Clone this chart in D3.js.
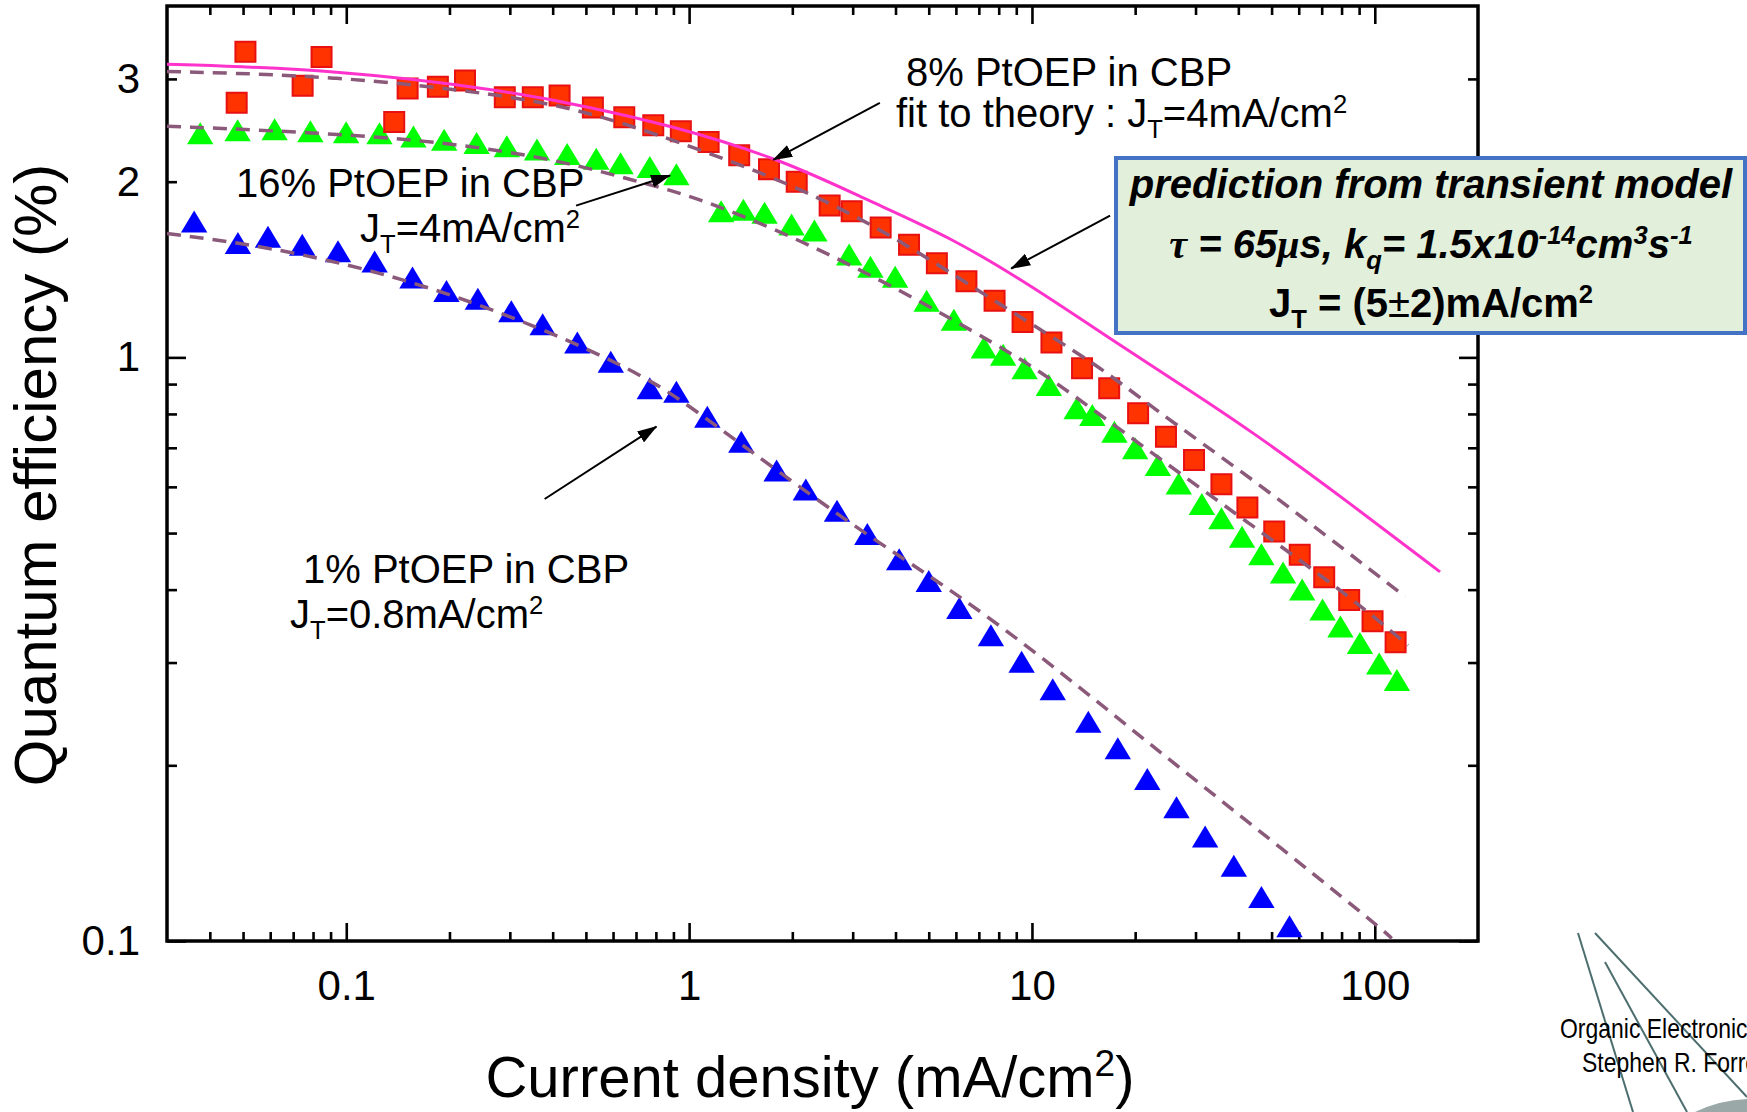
<!DOCTYPE html>
<html>
<head>
<meta charset="utf-8">
<script src="https://cdn.jsdelivr.net/npm/d3@7"></script>
<style>
  html, body { margin: 0; padding: 0; background: #fff; }
  svg { display: block; }
  text { font-family: "Liberation Sans", Arial, Helvetica, sans-serif; white-space: pre; fill: #000; }
</style>
</head>
<body>
<div id="chart"></div>
<script>
// ---- data ----
var xTicks = [0.1, 1, 10, 100];
var yTicks = [0.1, 1, 2, 3];

// 8% PtOEP in CBP (red squares)
var j8  = [0.0508, 0.0479, 0.0847, 0.0746, 0.138, 0.151, 0.185, 0.222, 0.290, 0.350, 0.419, 0.524, 0.647, 0.786, 0.946,
           1.14, 1.40, 1.71, 2.06, 2.57, 2.98, 3.62, 4.38, 5.28, 6.44, 7.78, 9.39, 11.4, 14.0, 16.8,
           20.4, 24.6, 29.7, 35.7, 42.5, 50.9, 60.4, 71.2, 84.2, 98.5, 115];
var qe8 = [3.34, 2.73, 3.27, 2.92, 2.53, 2.89, 2.91, 2.98, 2.79, 2.79, 2.81, 2.68, 2.58, 2.50, 2.44,
           2.34, 2.22, 2.10, 2.00, 1.82, 1.78, 1.67, 1.56, 1.45, 1.35, 1.25, 1.15, 1.06, 0.958, 0.885,
           0.802, 0.731, 0.667, 0.606, 0.553, 0.503, 0.459, 0.420, 0.384, 0.353, 0.325];

// 16% PtOEP in CBP (green triangles)
var j16  = [0.0375, 0.0482, 0.0618, 0.0786, 0.0999, 0.125, 0.157, 0.193, 0.240, 0.294, 0.360, 0.441, 0.536, 0.631, 0.768, 0.918,
            1.24, 1.44, 1.66, 1.99, 2.32, 2.93, 3.38, 3.99, 4.93, 5.92, 7.24, 8.24, 9.52, 11.2,
            13.5, 15.0, 17.4, 20.0, 23.3, 26.8, 31.3, 35.7, 41.0, 46.7, 54.0, 61.4, 70.4, 79.4, 90.5, 103, 116];
var qe16 = [2.42, 2.45, 2.46, 2.44, 2.43, 2.42, 2.39, 2.36, 2.33, 2.30, 2.27, 2.23, 2.19, 2.15, 2.12, 2.06,
            1.78, 1.79, 1.77, 1.69, 1.65, 1.50, 1.43, 1.375, 1.25, 1.16, 1.04, 1.01, 0.958, 0.897,
            0.818, 0.797, 0.746, 0.699, 0.654, 0.608, 0.561, 0.530, 0.493, 0.460, 0.428, 0.400, 0.370, 0.346, 0.324, 0.299, 0.280];

// 1% PtOEP in CBP (blue triangles)
var j1  = [0.036, 0.0483, 0.0591, 0.0744, 0.0946, 0.121, 0.156, 0.196, 0.242, 0.303, 0.374, 0.472, 0.591, 0.768, 0.918,
           1.13, 1.42, 1.80, 2.19, 2.70, 3.31, 4.10, 5.00, 6.14, 7.59, 9.33, 11.5, 14.6, 17.8,
           21.7, 26.4, 32.0, 38.8, 46.7, 56.4];
var qe1 = [1.71, 1.57, 1.61, 1.56, 1.52, 1.46, 1.37, 1.30, 1.26, 1.20, 1.14, 1.06, 0.983, 0.885, 0.873,
           0.791, 0.717, 0.640, 0.594, 0.546, 0.498, 0.451, 0.414, 0.372, 0.334, 0.301, 0.270, 0.2375, 0.214,
           0.1895, 0.1695, 0.151, 0.1346, 0.119, 0.106];

// fits to theory (dashed)
var fit8J   = [0.03, 0.094, 0.287, 0.503, 0.88, 2.11, 4.13, 8.08, 15.8, 22.1, 43.3, 84.8, 122.7];
var fit8QE  = [3.09, 3.035, 2.82, 2.64, 2.37, 1.96, 1.59, 1.23, 0.965, 0.825, 0.623, 0.460, 0.389];
var fit16J  = [0.03, 0.08, 0.196, 0.415, 0.69, 1.08, 2.11, 4.13, 8.08, 11.2, 22.1, 43.3, 84.8, 125];
var fit16QE = [2.49, 2.43, 2.34, 2.18, 2.01, 1.874, 1.59, 1.305, 1.043, 0.927, 0.689, 0.518, 0.389, 0.321];
var fit1J   = [0.03, 0.059, 0.145, 0.357, 0.756, 1.08, 3.0, 5.77, 11.3, 22.1, 43.3, 106, 112];
var fit1QE  = [1.63, 1.55, 1.375, 1.136, 0.927, 0.80, 0.513, 0.402, 0.299, 0.2173, 0.159, 0.1044, 0.101];

// prediction from transient model (pink solid)
var modelJ  = [0.03, 0.094, 0.287, 0.503, 0.88, 1.88, 3.3, 5.77, 10.1, 17.7, 25.9, 43.3, 84.8, 155];
var modelQE = [3.18, 3.11, 2.87, 2.69, 2.50, 2.18, 1.86, 1.61, 1.32, 1.057, 0.915, 0.751, 0.562, 0.429];

// annotation arrows [fromJ, fromQE, toJ, toQE]
var arrows = [
  [3.60, 2.73, 1.76, 2.18],
  [0.468, 1.82, 0.88, 2.05],
  [16.9, 1.75, 8.7, 1.42],
  [0.379, 0.572, 0.803, 0.761]
];

// ---- layout ----
var width = 1747, height = 1112;
var plot = {left: 167, right: 1478, top: 6, bottom: 941};

var svg = d3.select("#chart")
  .append("svg")
    .attr("width", width)
    .attr("height", height);

svg.append("rect").attr("width", width).attr("height", height).attr("fill", "#fff");

var defs = svg.append("defs");
defs.append("marker")
    .attr("id", "arrow")
    .attr("viewBox", "0 0 20 13")
    .attr("refX", 19)
    .attr("refY", 6.5)
    .attr("markerWidth", 20)
    .attr("markerHeight", 13)
    .attr("markerUnits", "userSpaceOnUse")
    .attr("orient", "auto")
  .append("path")
    .attr("d", "M0,0L20,6.5L0,13Z")
    .attr("fill", "#000");

var x = d3.scaleLog().domain([0.03, 200]).range([plot.left, plot.right]);
var y = d3.scaleLog().domain([0.1, 4]).range([plot.bottom, plot.top]);

function minorTicks(domain) {
  var vals = [];
  for (var e = -3; e <= 3; e++) {
    for (var k = 2; k <= 9; k++) {
      var v = k * Math.pow(10, e);
      if (v > domain[0] * 1.001 && v < domain[1] * 0.999) vals.push(v);
    }
  }
  return vals;
}
var xMinor = minorTicks(x.domain());
var yMinor = minorTicks(y.domain());

function styleAxis(g) {
  g.select(".domain").remove();
  g.selectAll(".tick line").attr("stroke", "#000").attr("stroke-width", 2.6);
  g.selectAll(".tick text").attr("font-size", 42).attr("fill", "#000");
}

// bottom axis with labels
svg.append("g")
  .attr("transform", "translate(0," + plot.bottom + ")")
  .call(d3.axisBottom(x).tickValues(xTicks).tickSize(-18).tickSizeOuter(0).tickPadding(29)
        .tickFormat(function(d) { return String(d); }))
  .call(styleAxis);
svg.append("g")
  .attr("transform", "translate(0," + plot.bottom + ")")
  .call(d3.axisBottom(x).tickValues(xMinor).tickSize(-9).tickSizeOuter(0).tickFormat(""))
  .call(styleAxis);
// top axis
svg.append("g")
  .attr("transform", "translate(0," + plot.top + ")")
  .call(d3.axisTop(x).tickValues(xTicks).tickSize(-18).tickSizeOuter(0).tickFormat(""))
  .call(styleAxis);
svg.append("g")
  .attr("transform", "translate(0," + plot.top + ")")
  .call(d3.axisTop(x).tickValues(xMinor).tickSize(-9).tickSizeOuter(0).tickFormat(""))
  .call(styleAxis);
// left axis
svg.append("g")
  .attr("transform", "translate(" + plot.left + ",0)")
  .call(d3.axisLeft(y).tickValues([0.1, 1]).tickSize(-19).tickSizeOuter(0).tickFormat(""))
  .call(styleAxis);
svg.append("g")
  .attr("transform", "translate(" + plot.left + ",0)")
  .call(d3.axisLeft(y).tickValues(yMinor).tickSize(-10).tickSizeOuter(0).tickFormat(""))
  .call(styleAxis);
svg.append("g")
  .attr("transform", "translate(" + plot.left + ",0)")
  .call(d3.axisLeft(y).tickValues(yTicks).tickSize(0).tickSizeOuter(0).tickPadding(27)
        .tickFormat(function(d) { return String(d); }))
  .call(styleAxis);
// right axis
svg.append("g")
  .attr("transform", "translate(" + plot.right + ",0)")
  .call(d3.axisRight(y).tickValues([0.1, 1]).tickSize(-19).tickSizeOuter(0).tickFormat(""))
  .call(styleAxis);
svg.append("g")
  .attr("transform", "translate(" + plot.right + ",0)")
  .call(d3.axisRight(y).tickValues(yMinor).tickSize(-10).tickSizeOuter(0).tickFormat(""))
  .call(styleAxis);

// frame
svg.append("rect")
  .attr("x", plot.left).attr("y", plot.top)
  .attr("width", plot.right - plot.left).attr("height", plot.bottom - plot.top)
  .attr("fill", "none").attr("stroke", "#000").attr("stroke-width", 3.5);

// triangle centred on its bounding box
var triUp = {
  draw: function(context, size) {
    var h = Math.sqrt(size), w = h * 0.6;
    context.moveTo(0, -h / 2);
    context.lineTo(w, h / 2);
    context.lineTo(-w, h / 2);
    context.closePath();
  }
};

// markers
svg.append("g")
  .selectAll("path")
  .data(d3.zip(j1, qe1))
  .join("path")
    .attr("transform", function(d) { return "translate(" + x(d[0]) + "," + y(d[1]) + ")"; })
    .attr("d", d3.symbol(triUp, 22 * 22))
    .attr("fill", "#0000ff");

svg.append("g")
  .selectAll("path")
  .data(d3.zip(j16, qe16))
  .join("path")
    .attr("transform", function(d) { return "translate(" + x(d[0]) + "," + y(d[1]) + ")"; })
    .attr("d", d3.symbol(triUp, 22 * 22))
    .attr("fill", "#00ff00");

svg.append("g")
  .selectAll("path")
  .data(d3.zip(j8, qe8))
  .join("path")
    .attr("transform", function(d) { return "translate(" + x(d[0]) + "," + y(d[1]) + ")"; })
    .attr("d", d3.symbol(d3.symbolSquare, 20 * 20))
    .attr("fill", "#ff3300")
    .attr("stroke", "#e81010")
    .attr("stroke-width", 2);

// curves
var line = d3.line()
  .x(function(d) { return x(d[0]); })
  .y(function(d) { return y(d[1]); })
  .curve(d3.curveBasis);

[[fit8J, fit8QE], [fit16J, fit16QE], [fit1J, fit1QE]].forEach(function(f) {
  svg.append("path")
    .datum(d3.zip(f[0], f[1]))
    .attr("d", line)
    .attr("fill", "none")
    .attr("stroke", "#8b5a7a")
    .attr("stroke-width", 3.5)
    .attr("stroke-dasharray", "14,9");
});

svg.append("path")
  .datum(d3.zip(modelJ, modelQE))
  .attr("d", line)
  .attr("fill", "none")
  .attr("stroke", "#ff33cc")
  .attr("stroke-width", 3);

// arrows
svg.append("g")
  .selectAll("line")
  .data(arrows)
  .join("line")
    .attr("x1", function(d) { return x(d[0]); })
    .attr("y1", function(d) { return y(d[1]); })
    .attr("x2", function(d) { return x(d[2]); })
    .attr("y2", function(d) { return y(d[3]); })
    .attr("stroke", "#000")
    .attr("stroke-width", 2)
    .attr("marker-end", "url(#arrow)");

// text with sub/superscripts: parts = [[string, "sub"|"sup"|undefined, extra attrs]]
function richText(parent, px, py, fs, parts, anchor) {
  var t = parent.append("text")
    .attr("x", px).attr("y", py)
    .attr("font-size", fs)
    .attr("text-anchor", anchor || "start");
  var shift = 0;
  parts.forEach(function(p) {
    var target = p[1] === "sub" ? 0.28 * fs : p[1] === "sup" ? -0.36 * fs : 0;
    var ts = t.append("tspan")
      .attr("dy", target - shift)
      .attr("font-size", p[1] ? fs * 0.64 : fs)
      .text(p[0]);
    if (p[2]) Object.keys(p[2]).forEach(function(k) { ts.attr(k, p[2][k]); });
    shift = target;
  });
  return t;
}

var notes = svg.append("g");
richText(notes, 906, 86, 40, [["8% PtOEP in CBP"]]);
richText(notes, 896, 127, 40, [["fit to theory : J"], ["T", "sub"], ["=4mA/cm"], ["2", "sup"]]);
richText(notes, 236, 197, 40, [["16% PtOEP in CBP"]]);
richText(notes, 580, 242, 40, [["J"], ["T", "sub"], ["=4mA/cm"], ["2", "sup"]], "end");
richText(notes, 303, 583, 40, [["1% PtOEP in CBP"]]);
richText(notes, 290, 628, 40, [["J"], ["T", "sub"], ["=0.8mA/cm"], ["2", "sup"]]);

// model box
var box = svg.append("g");
box.append("rect")
  .attr("x", 1116).attr("y", 158)
  .attr("width", 629).attr("height", 175)
  .attr("fill", "#e2efda")
  .attr("stroke", "#4472c4")
  .attr("stroke-width", 4);
richText(box, 1431, 198, 40, [["prediction from transient model"]], "middle")
  .attr("font-weight", "bold").attr("font-style", "italic");
var serif = {"font-family": "'Liberation Serif', 'Times New Roman', serif"};
richText(box, 1431, 258, 40, [
  ["\u03c4", undefined, serif], [" = 65"], ["\u03bc", undefined, serif], ["s, k"], ["q", "sub"],
  ["= 1.5x10"], ["-14", "sup"], ["cm"], ["3", "sup"], ["s"], ["-1", "sup"]
], "middle").attr("font-weight", "bold").attr("font-style", "italic");
richText(box, 1431, 317, 40, [
  ["J"], ["T", "sub"], [" = (5"], ["\u00b1", undefined, {"font-weight": "normal"}], ["2)mA/cm"], ["2", "sup"]
], "middle").attr("font-weight", "bold");

// axis titles
svg.append("text")
  .attr("transform", "translate(56,475) rotate(-90)")
  .attr("text-anchor", "middle")
  .attr("font-size", 60)
  .text("Quantum efficiency (%)");
richText(svg, 810, 1097, 58, [["Current density (mA/cm"], ["2", "sup"], [")"]], "middle");

// corner logo
var logo = svg.append("g");
[[1578, 933, 1633, 1112], [1595, 933, 1747, 1097], [1605, 962, 1687, 1112]].forEach(function(l) {
  logo.append("line")
    .attr("x1", l[0]).attr("y1", l[1]).attr("x2", l[2]).attr("y2", l[3])
    .attr("stroke", "#4d6e6e").attr("stroke-width", 2);
});
logo.append("path")
  .attr("d", "M1695,1112 Q1720,1100 1747,1099 L1747,1112 Z")
  .attr("fill", "#9aa8a8");
logo.append("text")
  .attr("transform", "translate(1560,1038) scale(0.82,1)")
  .attr("font-size", 28)
  .text("Organic Electronics");
logo.append("text")
  .attr("transform", "translate(1582,1072) scale(0.82,1)")
  .attr("font-size", 28)
  .text("Stephen R. Forrest");
</script>
</body>
</html>
